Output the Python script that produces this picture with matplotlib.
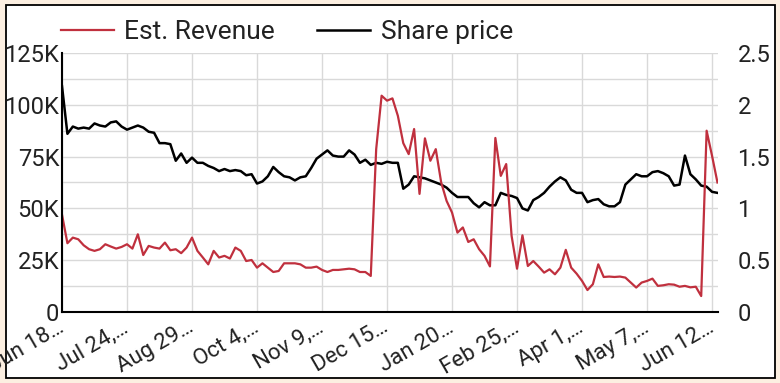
import numpy as np
import pandas as pd
import matplotlib
matplotlib.use("Agg")
from matplotlib import pyplot as plt
from matplotlib.patches import Rectangle
from matplotlib.ticker import FuncFormatter, MultipleLocator

plt.rcParams['font.family'] = ['Roboto', 'DejaVu Sans']

# values read every 3 days, starting Jun 18
start_date = '2019-06-18'

revenue_k = [
    47.0, 33.2, 35.9, 35.1, 32.2, 30.3, 29.5, 30.3, 32.7, 31.6,
    30.6, 31.4, 32.7, 30.6, 37.5, 27.5, 31.9, 31.1, 30.6, 33.5,
    29.8, 30.3, 28.4, 31.1, 35.9, 29.5, 26.3, 23.0, 29.5, 26.3,
    27.1, 25.8, 31.1, 29.5, 24.6, 25.1, 21.4, 23.5, 21.4, 19.3,
    19.8, 23.5, 23.5, 23.5, 23.0, 21.4, 21.4, 21.9, 20.3, 19.3,
    20.3, 20.3, 20.6, 20.9, 20.6, 19.3, 19.3, 17.4, 78.6, 104.4,
    102.0, 103.1, 94.7, 81.5, 76.2, 88.3, 57.0, 83.8, 73.0, 78.6,
    62.5, 53.6, 48.0, 38.3, 40.8, 33.8, 35.1, 30.3, 27.1, 22.0,
    84.0, 65.7, 71.4, 36.7, 20.9, 37.0, 22.2, 24.6, 21.9, 19.0,
    20.6, 18.2, 21.4, 30.0, 21.4, 18.5, 15.0, 10.6, 13.4, 23.0,
    16.9, 17.1, 16.9, 17.1, 16.6, 14.2, 11.8, 14.2, 15.0, 16.1,
    12.6, 12.9, 13.4, 13.2, 12.2, 12.6, 11.9, 12.2, 7.7, 87.5,
    75.4, 62.5,
]

share_price = [
    2.18, 1.72, 1.79, 1.77, 1.78, 1.77, 1.82, 1.80, 1.79, 1.83,
    1.84, 1.79, 1.76, 1.78, 1.80, 1.78, 1.74, 1.73, 1.63, 1.63,
    1.62, 1.46, 1.53, 1.44, 1.49, 1.44, 1.44, 1.41, 1.39, 1.36,
    1.38, 1.36, 1.37, 1.36, 1.32, 1.33, 1.24, 1.26, 1.31, 1.40,
    1.35, 1.31, 1.30, 1.27, 1.30, 1.31, 1.39, 1.48, 1.52, 1.56,
    1.51, 1.50, 1.50, 1.56, 1.52, 1.44, 1.47, 1.42, 1.44, 1.43,
    1.45, 1.44, 1.44, 1.19, 1.23, 1.31, 1.30, 1.29, 1.27, 1.25,
    1.23, 1.20, 1.15, 1.11, 1.11, 1.11, 1.05, 1.01, 1.06, 1.03,
    1.03, 1.15, 1.13, 1.12, 1.10, 1.00, 0.98, 1.08, 1.11, 1.15,
    1.21, 1.26, 1.30, 1.27, 1.18, 1.15, 1.15, 1.06, 1.08, 1.09,
    1.04, 1.02, 1.02, 1.06, 1.23, 1.28, 1.33, 1.31, 1.31, 1.35,
    1.36, 1.34, 1.31, 1.22, 1.23, 1.51, 1.33, 1.28, 1.22, 1.21,
    1.16, 1.15,
]

tick_labels = ['Jun 18\u2026', 'Jul 24,\u2026', 'Aug 29\u2026', 'Oct 4,\u2026',
               'Nov 9,\u2026', 'Dec 15\u2026', 'Jan 20\u2026', 'Feb 25,\u2026',
               'Apr 1,\u2026', 'May 7,\u2026', 'Jun 12\u2026']

dates = pd.date_range(start_date, periods=len(revenue_k), freq='3D')
tick_dates = pd.date_range(start_date, periods=len(tick_labels), freq='36D')

red = '#c0303e'
grid_c = '#d9d9d9'
txt_c = '#222222'

fig = plt.figure(figsize=(7.8, 3.83), dpi=100)
fig.patch.set_facecolor('#fcefe1')
fig.patches.append(Rectangle((6 / 780, 5 / 383), 769 / 780, 373 / 383,
                             transform=fig.transFigure, facecolor='white',
                             edgecolor='black', linewidth=1.3, zorder=-5))

ax = fig.add_axes([62 / 780, 1 - 312 / 383, 656 / 780, 259 / 383])
ax2 = ax.twinx()
# red on top, but grid drawn by the lower axes so it stays under both lines
ax.set_zorder(ax2.get_zorder() + 1)
ax.patch.set_visible(False)
ax2.patch.set_visible(False)

l2, = ax2.plot(dates, share_price, color='black', lw=1.8, label='Share price')
l1, = ax.plot(dates, np.array(revenue_k) * 1000, color=red, lw=1.6,
              label='Est. Revenue')

ax.set_ylim(0, 125000)
ax2.set_ylim(0, 2.5)
ax.set_xlim(pd.Timestamp(start_date), pd.Timestamp(start_date) + pd.Timedelta(days=363.3))

ax.yaxis.set_major_locator(MultipleLocator(25000))
ax.yaxis.set_major_formatter(FuncFormatter(lambda v, p: '0' if v == 0 else f'{int(v / 1000)}K'))
ax2.yaxis.set_major_locator(MultipleLocator(0.5))
ax2.yaxis.set_minor_locator(MultipleLocator(0.25))
ax2.yaxis.set_major_formatter(FuncFormatter(lambda v, p: f'{v:g}'))

ax.set_xticks(tick_dates)
ax.set_xticklabels(tick_labels, rotation=30, ha='right', va='center',
                   rotation_mode='anchor')

ax2.xaxis.set_visible(True)
ax2.tick_params(axis='x', which='both', length=0, labelbottom=False, labeltop=False)
ax2.grid(True, which='both', axis='y', color=grid_c, lw=1)
ax2.grid(True, which='major', axis='x', color=grid_c, lw=1)
ax.grid(False)

ax.tick_params(axis='y', which='both', length=0, labelsize=17, colors=txt_c, pad=2)
ax.tick_params(axis='x', which='both', length=0, labelsize=16, colors=txt_c, pad=10)
ax2.tick_params(axis='y', which='both', length=0, labelsize=17, colors=txt_c, pad=14)

for a in (ax, ax2):
    a.spines['top'].set_visible(False)
    a.spines['right'].set_visible(False)
ax2.spines['left'].set_visible(False)
ax2.spines['bottom'].set_visible(False)
ax.spines['left'].set_linewidth(1.5)
ax.spines['bottom'].set_linewidth(1.5)

fig.legend(handles=[l1, l2], loc='center', bbox_to_anchor=(287 / 780, 1 - 32 / 383),
           ncol=2, frameon=False, fontsize=19, handlelength=2.0,
           handletextpad=0.4, columnspacing=1.6, labelcolor=txt_c)

fig.savefig('out.png', dpi=100, facecolor=fig.get_facecolor())
